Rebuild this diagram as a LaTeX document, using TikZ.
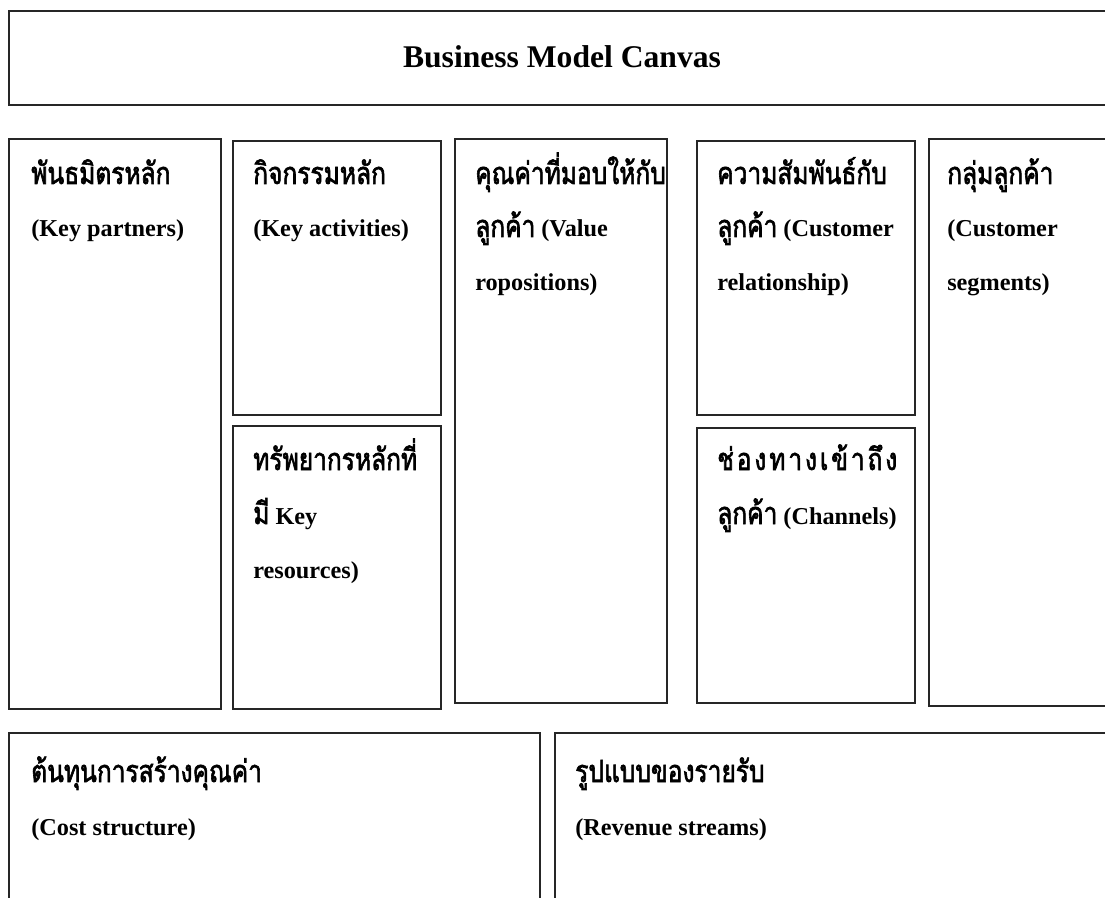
\documentclass[tikz,border=0pt]{standalone}
\usepackage{fontspec}
\setmainfont{Liberation Serif}
\newfontfamily\thaifont[Script=Thai,FakeStretch=0.8,FakeBold=2]{Loma}
\usetikzlibrary{fit}
\newcommand\tha[1]{{\thaifont\mdseries\fontsize{23}{28}\selectfont #1}}
\begin{document}
\begin{tikzpicture}[x=0.75pt,y=-0.75pt,
  cell/.style={draw=black!85, line width=0.9pt, inner sep=0pt},
  txt/.style={anchor=base west, inner sep=0pt, font=\bfseries\fontsize{18.2}{22}\selectfont},
  ttl/.style={anchor=base, inner sep=0pt, font=\bfseries\fontsize{23.7}{28}\selectfont}]
\useasboundingbox (0,0) rectangle (1105,898);
\clip (0,0) rectangle (1105,898);
% boxes
\node[cell, fit={(9,11) (1120,105)}] (title) {};
\node[cell, fit={(9,139) (221,709)}] (kp) {};
\node[cell, fit={(233,141) (441,415)}] (ka) {};
\node[cell, fit={(233,426) (441,709)}] (kr) {};
\node[cell, fit={(455,139) (667,703)}] (vp) {};
\node[cell, fit={(697,141) (915,415)}] (crel) {};
\node[cell, fit={(697,428) (915,703)}] (ch) {};
\node[cell, fit={(929,139) (1120,706)}] (cseg) {};
\node[cell, fit={(9,733) (540,920)}] (cost) {};
\node[cell, fit={(555,733) (1120,920)}] (rev) {};
% title
\node[ttl] (titletext) at (562,68) {Business Model Canvas};
% key partners
\node[txt] (kp1) at (31,184) {\tha{พันธมิตรหลัก}};
\node[txt] (kp2) at (31,237) {(Key partners)};
% key activities
\node[txt] (ka1) at (253,184) {\tha{กิจกรรมหลัก}};
\node[txt] (ka2) at (253,237) {(Key activities)};
% key resources
\node[txt] (kr1) at (253,470) {\tha{ทรัพยากรหลักที่}};
\node[txt] (kr2) at (253,524) {\tha{มี} Key};
\node[txt] (kr3) at (253,578) {resources)};
% value propositions
\node[txt] (vp1) at (475,184) {\tha{คุณค่าที่มอบให้กับ}};
\node[txt] (vp2) at (475,237) {\tha{ลูกค้า} (Value};
\node[txt] (vp3) at (475,291) {ropositions)};
% customer relationship
\node[txt] (cr1) at (717,184) {\tha{ความสัมพันธ์กับ}};
\node[txt] (cr2) at (717,237) {\tha{ลูกค้า} (Customer};
\node[txt] (cr3) at (717,291) {relationship)};
% channels
\node[txt] (ch1) at (717,470) {\tha{\hbox to 135pt{ช่\hfill อ\hfill ง\hfill ท\hfill า\hfill ง\hfill เ\hfill ข้\hfill า\hfill ถึ\hfill ง}}};
\node[txt] (ch2) at (717,524) {\tha{ลูกค้า} (Channels)};
% customer segments
\node[txt] (cs1) at (947,184) {\tha{กลุ่มลูกค้า}};
\node[txt] (cs2) at (947,237) {(Customer};
\node[txt] (cs3) at (947,291) {segments)};
% cost structure
\node[txt] (co1) at (31,782) {\tha{ต้นทุนการสร้างคุณค่า}};
\node[txt] (co2) at (31,835) {(Cost structure)};
% revenue streams
\node[txt] (rv1) at (575,782) {\tha{รูปแบบของรายรับ}};
\node[txt] (rv2) at (575,835) {(Revenue streams)};
\end{tikzpicture}
\end{document}
